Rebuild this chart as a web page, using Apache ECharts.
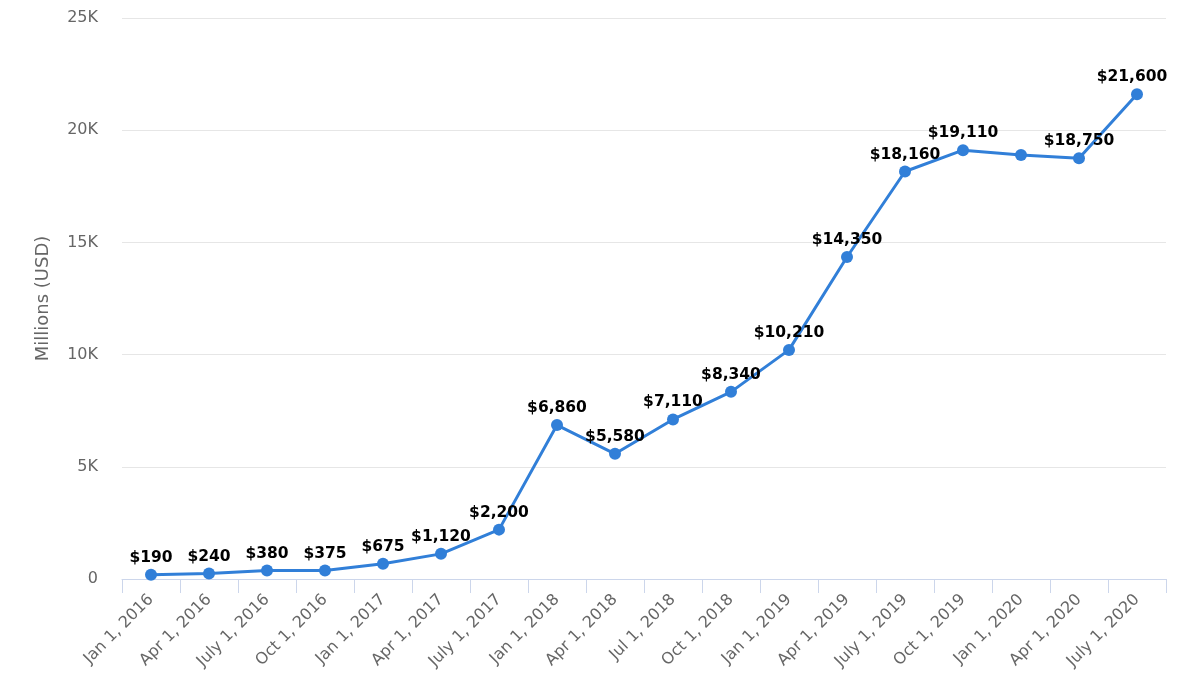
<!DOCTYPE html>
<html><head><meta charset="utf-8">
<script src="https://cdn.jsdelivr.net/npm/echarts@6/dist/echarts.min.js"></script>
<style>html,body{margin:0;padding:0;background:#fff}#c{width:1190px;height:679px}</style>
</head><body><div id="c"></div>
<script>
const categories = ["Jan 1, 2016","Apr 1, 2016","July 1, 2016","Oct 1, 2016","Jan 1, 2017","Apr 1, 2017","July 1, 2017","Jan 1, 2018","Apr 1, 2018","Jul 1, 2018","Oct 1, 2018","Jan 1, 2019","Apr 1, 2019","July 1, 2019","Oct 1, 2019","Jan 1, 2020","Apr 1, 2020","July 1, 2020"];
const values = [190,240,380,375,675,1120,2200,6860,5580,7110,8340,10210,14350,18160,19110,18900,18750,21600];
const showLabel = [true,true,true,true,true,true,true,true,true,true,true,true,true,true,true,false,true,true];
const yTicks = [0,5000,10000,15000,20000,25000];

const chart = echarts.init(document.getElementById('c'));
chart.setOption({
  animation:false,
  grid:{left:122,right:24,top:18,bottom:100},
  xAxis:{type:'category',data:categories,boundaryGap:true,
    axisLine:{lineStyle:{color:'#ccd6eb',width:1}},
    axisTick:{show:true,length:14,lineStyle:{color:'#ccd6eb'},alignWithLabel:false},
    axisLabel:{rotate:45,interval:0,color:'#666',fontSize:16,fontFamily:'DejaVu Sans',margin:18}},
  yAxis:{type:'value',min:0,max:25000,interval:5000,
    name:'Millions (USD)',nameLocation:'middle',nameGap:70,nameRotate:90,
    nameTextStyle:{color:'#666',fontSize:18,fontFamily:'DejaVu Sans'},
    axisLine:{show:false},axisTick:{show:false},
    splitLine:{lineStyle:{color:'#e6e6e6'}},
    axisLabel:{color:'#666',fontSize:16,fontFamily:'DejaVu Sans',margin:24,
      formatter:v=> yTicks.includes(v) ? (v===0?'0':(v/1000)+'K') : ''}},
  series:[{type:'line',data:values.map((v,i)=>({value:v,label:{show:showLabel[i], offset: i===values.length-1?[-5,0]:[0,0]}})),
    symbol:'circle',symbolSize:12,
    lineStyle:{color:'#317fd8',width:3},
    itemStyle:{color:'#317fd8'},
    label:{show:true,position:'top',distance:3,color:'#000',fontWeight:'bold',fontSize:15.5,fontFamily:'DejaVu Sans',
      formatter:p=>'$'+p.value.toLocaleString('en-US')}}]
});
</script></body></html>
